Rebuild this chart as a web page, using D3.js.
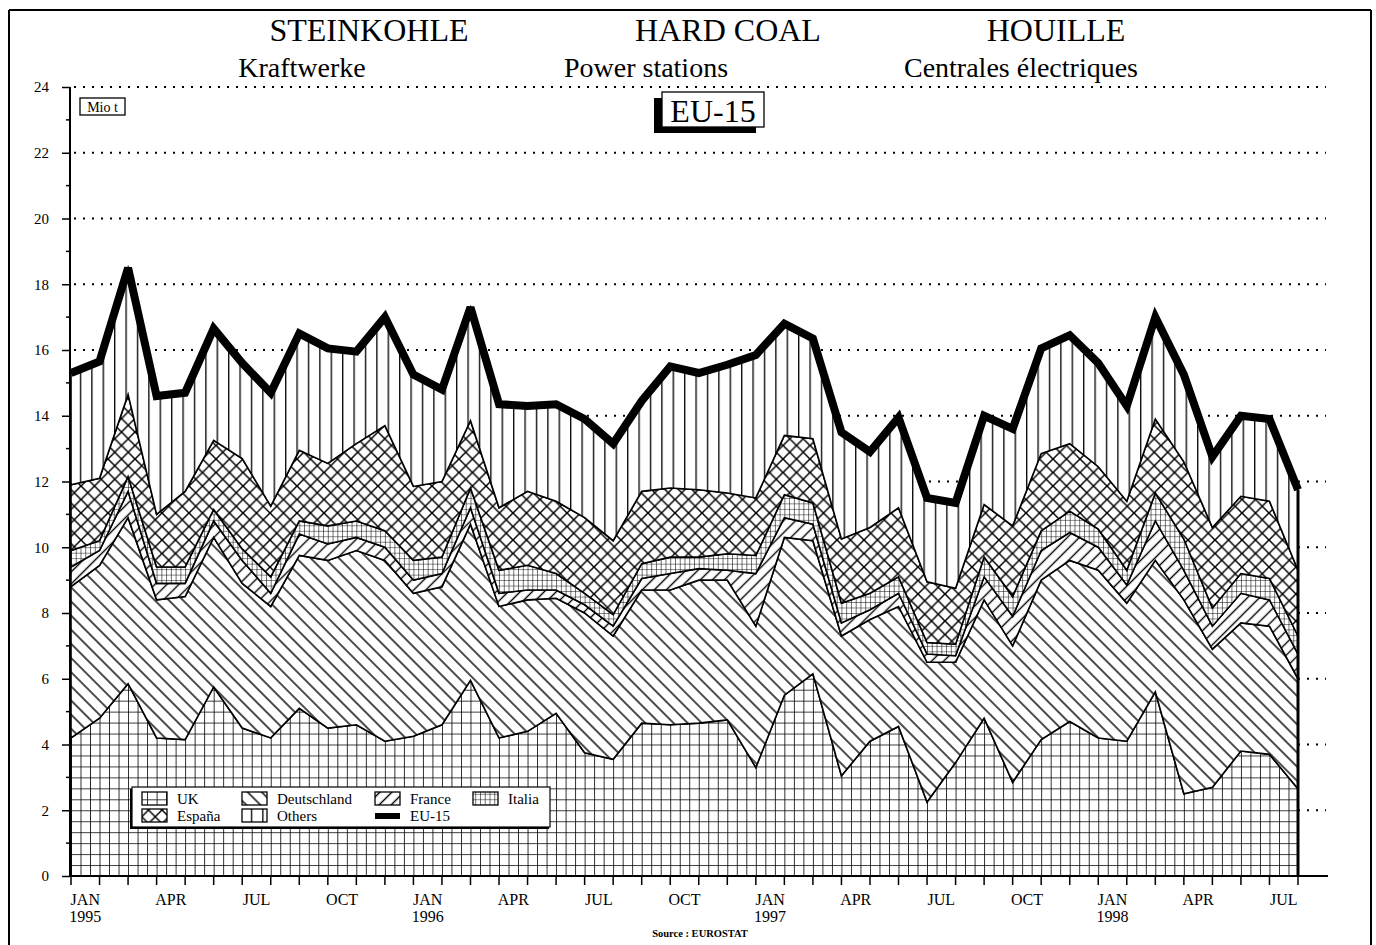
<!DOCTYPE html>
<html><head><meta charset="utf-8">
<script src="https://cdn.jsdelivr.net/npm/d3@7/dist/d3.min.js"></script>
<style>
html,body{margin:0;padding:0;background:#fff;}
svg{display:block;}
text{font-family:"Liberation Serif","Times New Roman",serif;fill:#000;}
</style></head><body>
<svg id="chart" width="1376" height="945"></svg>
<script>
// ---------- DATA ----------
const categories = [
 "1995-01","1995-02","1995-03","1995-04","1995-05","1995-06","1995-07","1995-08","1995-09","1995-10","1995-11","1995-12",
 "1996-01","1996-02","1996-03","1996-04","1996-05","1996-06","1996-07","1996-08","1996-09","1996-10","1996-11","1996-12",
 "1997-01","1997-02","1997-03","1997-04","1997-05","1997-06","1997-07","1997-08","1997-09","1997-10","1997-11","1997-12",
 "1998-01","1998-02","1998-03","1998-04","1998-05","1998-06","1998-07","1998-08"];
const uk = [4.2,4.8,5.85,4.2,4.15,5.75,4.5,4.2,5.1,4.5,4.6,4.1,4.25,4.6,5.95,4.2,4.4,4.95,3.75,3.55,4.65,4.6,4.65,4.75,3.3,5.5,6.15,3.05,4.1,4.55,2.25,3.45,4.8,2.85,4.15,4.7,4.2,4.1,5.6,2.5,2.7,3.8,3.7,2.65];
const deutschland = [4.6,4.65,5.05,4.2,4.35,4.55,4.4,4.0,4.65,5.1,5.3,5.5,4.35,4.2,4.75,4.0,4.0,3.5,4.25,3.75,4.05,4.1,4.35,4.25,4.3,4.8,4.05,4.25,3.7,3.65,4.25,3.05,3.6,4.15,4.85,4.9,5.1,4.2,4.0,5.9,4.2,3.9,3.9,3.35];
const france = [0.6,0.45,0.8,0.5,0.4,0.5,0.7,0.4,0.65,0.5,0.4,0.4,0.4,0.4,0.5,0.4,0.3,0.25,0.25,0.3,0.35,0.5,0.35,0.3,1.6,0.6,0.5,0.4,0.3,0.4,0.25,0.2,0.7,0.9,0.9,0.85,0.7,0.55,1.2,0.9,0.7,0.9,0.8,0.75];
const italia = [0.5,0.3,0.45,0.5,0.5,0.35,0.35,0.5,0.4,0.55,0.5,0.5,0.6,0.5,0.6,0.7,0.75,0.5,0.35,0.35,0.45,0.5,0.35,0.5,0.55,0.7,0.65,0.6,0.5,0.5,0.35,0.35,0.6,0.6,0.6,0.65,0.55,0.45,0.85,0.95,0.55,0.6,0.65,0.55];
const espana = [2.0,1.9,2.5,1.6,2.3,2.1,2.75,2.15,2.15,1.9,2.35,3.2,2.25,2.3,2.05,1.9,2.25,2.2,2.3,2.25,2.2,2.1,2.05,1.85,1.75,1.8,1.95,1.95,2.0,2.1,1.85,1.7,1.6,2.15,2.35,2.05,1.9,2.1,2.25,2.35,2.45,2.35,2.35,2.0];
const others = [3.4,3.55,3.85,3.6,3.0,3.4,2.9,3.45,3.55,3.5,2.8,3.3,3.4,2.8,3.45,3.15,2.6,2.95,3.0,2.95,2.75,3.7,3.55,3.9,4.35,3.4,3.05,3.25,2.3,2.75,2.55,2.6,2.7,2.95,3.2,3.3,3.15,2.9,3.1,2.65,2.15,2.45,2.5,2.45];
const seriesNames = ["UK","Deutschland","France","Italia","España","Others"];
const totalName = "EU-15";
const monthTickLabels = {"01":"JAN","04":"APR","07":"JUL","10":"OCT"};
const yTicks = [0,2,4,6,8,10,12,14,16,18,20,22,24];
const titles = ["STEINKOHLE","HARD COAL","HOUILLE"];
const subtitles = ["Kraftwerke","Power stations","Centrales électriques"];

// ---------- CHART ----------
const svg = d3.select("#chart");
const x = d3.scaleLinear().domain([0, categories.length - 1]).range([71, 1298]);
const y = d3.scaleLinear().domain([0, 24]).range([876, 87]);
const step = x(1) - x(0);

const valuesByName = {"UK":uk,"Deutschland":deutschland,"France":france,"Italia":italia,"España":espana,"Others":others};
const rows = categories.map((c, i) => {
  const r = {cat: c, idx: i};
  seriesNames.forEach(k => r[k] = valuesByName[k][i]);
  return r;
});
const stacked = d3.stack().keys(seriesNames)(rows);

// patterns
const defs = svg.append("defs");
function makePattern(id, w, h, d, opts = {}) {
  const p = defs.append("pattern").attr("id", id)
    .attr("patternUnits", "userSpaceOnUse")
    .attr("width", w).attr("height", h)
    .attr("x", opts.x || 0).attr("y", opts.y || 0);
  if (opts.transform) p.attr("patternTransform", opts.transform);
  p.append("rect").attr("width", w).attr("height", h).attr("fill", "#fff");
  p.append("path").attr("d", d).attr("stroke", "#000")
    .attr("stroke-width", opts.sw || 1.4).attr("fill", "none");
}
const cw = step / 3, ch = (y(0) - y(1)) / 3;
makePattern("pUK", cw, ch, `M0,0H${cw}M0,0V${ch}`, {x: 71, y: 876, sw: 1.6});
makePattern("pDE", 10, 10, "M5,0V10", {transform: "rotate(-45)", sw: 1.4});
makePattern("pFR", 8.5, 10, "M4.25,0V10", {transform: "rotate(45)", sw: 1.4});
makePattern("pIT", cw / 2, ch / 2, `M0,0H${cw/2}M0,0V${ch/2}`, {x: 71, y: 876, sw: 1.1});
makePattern("pES", 13.5, 13.5, "M-1,-1L14.5,14.5M14.5,-1L-1,14.5", {sw: 1.5});
makePattern("pOT", 11.4, 10, "M0.7,0V10", {sw: 1.3});
const fills = {"UK":"url(#pUK)","Deutschland":"url(#pDE)","France":"url(#pFR)","Italia":"url(#pIT)","España":"url(#pES)","Others":"url(#pOT)"};

// frame
svg.append("line").attr("x1", 9).attr("x2", 1371).attr("y1", 10).attr("y2", 10).attr("stroke", "#000").attr("stroke-width", 2);
svg.append("line").attr("x1", 9).attr("x2", 9).attr("y1", 10).attr("y2", 945).attr("stroke", "#000").attr("stroke-width", 2);
svg.append("line").attr("x1", 1371).attr("x2", 1371).attr("y1", 10).attr("y2", 945).attr("stroke", "#000").attr("stroke-width", 2);

// titles
const titleX = [369, 728, 1056], subX = [302, 646, 1021];
titles.forEach((t, i) => svg.append("text").attr("x", titleX[i]).attr("y", 41)
  .attr("text-anchor", "middle").style("font-size", "32px").text(t));
subtitles.forEach((t, i) => svg.append("text").attr("x", subX[i]).attr("y", 77)
  .attr("text-anchor", "middle").style("font-size", "28px").text(t));

// gridlines (dotted)
const gridG = svg.append("g");
yTicks.filter(v => v > 0).forEach(v => {
  gridG.append("line").attr("x1", 74).attr("x2", 1326).attr("y1", y(v)).attr("y2", y(v))
    .attr("stroke", "#000").attr("stroke-width", 2).attr("stroke-dasharray", "2,7");
});

// areas
const area = d3.area().x((d, i) => x(i)).y0(d => y(d[0])).y1(d => y(d[1]));
svg.append("g").selectAll("path").data(stacked).join("path")
  .attr("d", area).attr("fill", d => fills[d.key])
  .attr("stroke", "#000").attr("stroke-width", 1.6).attr("stroke-linejoin", "miter");

// total line
const topSeries = stacked[stacked.length - 1];
const line = d3.line().x((d, i) => x(i)).y(d => y(d[1]));
svg.append("path").datum(topSeries).attr("d", line).attr("fill", "none")
  .attr("stroke", "#000").attr("stroke-width", 8).attr("stroke-linejoin", "miter").attr("stroke-miterlimit", 3);
const lastI = categories.length - 1;
svg.append("line").attr("x1", x(lastI)).attr("x2", x(lastI))
  .attr("y1", y(topSeries[lastI][1])).attr("y2", y(0)).attr("stroke", "#000").attr("stroke-width", 3);

// y axis
const yAxis = d3.axisLeft(y).tickValues(yTicks).tickSize(8).tickFormat(d3.format("d"));
const yg = svg.append("g").attr("transform", "translate(70,0)").call(yAxis);
yg.select(".domain").attr("stroke", "#000").attr("stroke-width", 2).attr("d", `M0,${y(24)}V${y(0)}`);
yg.selectAll(".tick line").attr("stroke", "#000").attr("stroke-width", 1.5);
yg.selectAll(".tick text").attr("x", -21).style("font-size", "15px").style("font-family", '"Liberation Serif",serif');
// minor ticks
const minor = d3.range(1, 24, 2);
svg.append("g").selectAll("line").data(minor).join("line")
  .attr("x1", 66).attr("x2", 70).attr("y1", d => y(d)).attr("y2", d => y(d))
  .attr("stroke", "#000").attr("stroke-width", 1.5);

// x axis
svg.append("line").attr("x1", 70).attr("x2", 1328).attr("y1", y(0)).attr("y2", y(0))
  .attr("stroke", "#000").attr("stroke-width", 2);
const xg = svg.append("g");
categories.forEach((c, i) => {
  xg.append("line").attr("x1", x(i)).attr("x2", x(i)).attr("y1", y(0)).attr("y2", y(0) + 9)
    .attr("stroke", "#000").attr("stroke-width", 1.5);
  const [yr, mo] = c.split("-");
  const lab = monthTickLabels[mo];
  if (lab && i < lastI) {
    xg.append("text").attr("x", x(i) + step / 2).attr("y", 905).attr("text-anchor", "middle")
      .style("font-size", "16px").text(lab);
    if (mo === "01") xg.append("text").attr("x", x(i) + step / 2).attr("y", 922).attr("text-anchor", "middle")
      .style("font-size", "16px").text(yr);
  }
});

// Mio t box
svg.append("rect").attr("x", 80).attr("y", 98).attr("width", 45).attr("height", 17)
  .attr("fill", "#fff").attr("stroke", "#000").attr("stroke-width", 1.3);
svg.append("text").attr("x", 102.5).attr("y", 111.5).attr("text-anchor", "middle").style("font-size", "14px").text("Mio t");

// EU-15 box with shadow
svg.append("rect").attr("x", 654).attr("y", 98).attr("width", 102).attr("height", 35).attr("fill", "#000");
svg.append("rect").attr("x", 662).attr("y", 92).attr("width", 102).attr("height", 35)
  .attr("fill", "#fff").attr("stroke", "#000").attr("stroke-width", 1.3);
svg.append("text").attr("x", 713).attr("y", 122).attr("text-anchor", "middle").style("font-size", "32px").text(totalName);

// legend
const lg = svg.append("g");
lg.append("rect").attr("x", 130).attr("y", 789).attr("width", 419).attr("height", 40).attr("fill", "#000");
lg.append("rect").attr("x", 132).attr("y", 787).attr("width", 418).attr("height", 40)
  .attr("fill", "#fff").attr("stroke", "#000").attr("stroke-width", 1.2);
const legendItems = [
  {name: "UK", col: 0, row: 0}, {name: "Deutschland", col: 1, row: 0}, {name: "France", col: 2, row: 0}, {name: "Italia", col: 3, row: 0},
  {name: "España", col: 0, row: 1}, {name: "Others", col: 1, row: 1}, {name: totalName, col: 2, row: 1}
];
const colX = [142, 242, 375, 473], rowY = [792, 809];
legendItems.forEach(it => {
  const sx = colX[it.col], sy = rowY[it.row];
  if (it.name === totalName) {
    lg.append("rect").attr("x", sx).attr("y", sy + 4).attr("width", 25).attr("height", 6).attr("fill", "#000");
  } else {
    lg.append("rect").attr("x", sx).attr("y", sy).attr("width", 25).attr("height", 13)
      .attr("fill", fills[it.name]).attr("stroke", "#000").attr("stroke-width", 1.3);
  }
  lg.append("text").attr("x", sx + 35).attr("y", sy + 12).style("font-size", "15px").text(it.name);
});

// source
svg.append("text").attr("x", 700).attr("y", 937).attr("text-anchor", "middle")
  .style("font-size", "10.5px").style("font-weight", "bold").text("Source : EUROSTAT");
</script>
</body></html>
